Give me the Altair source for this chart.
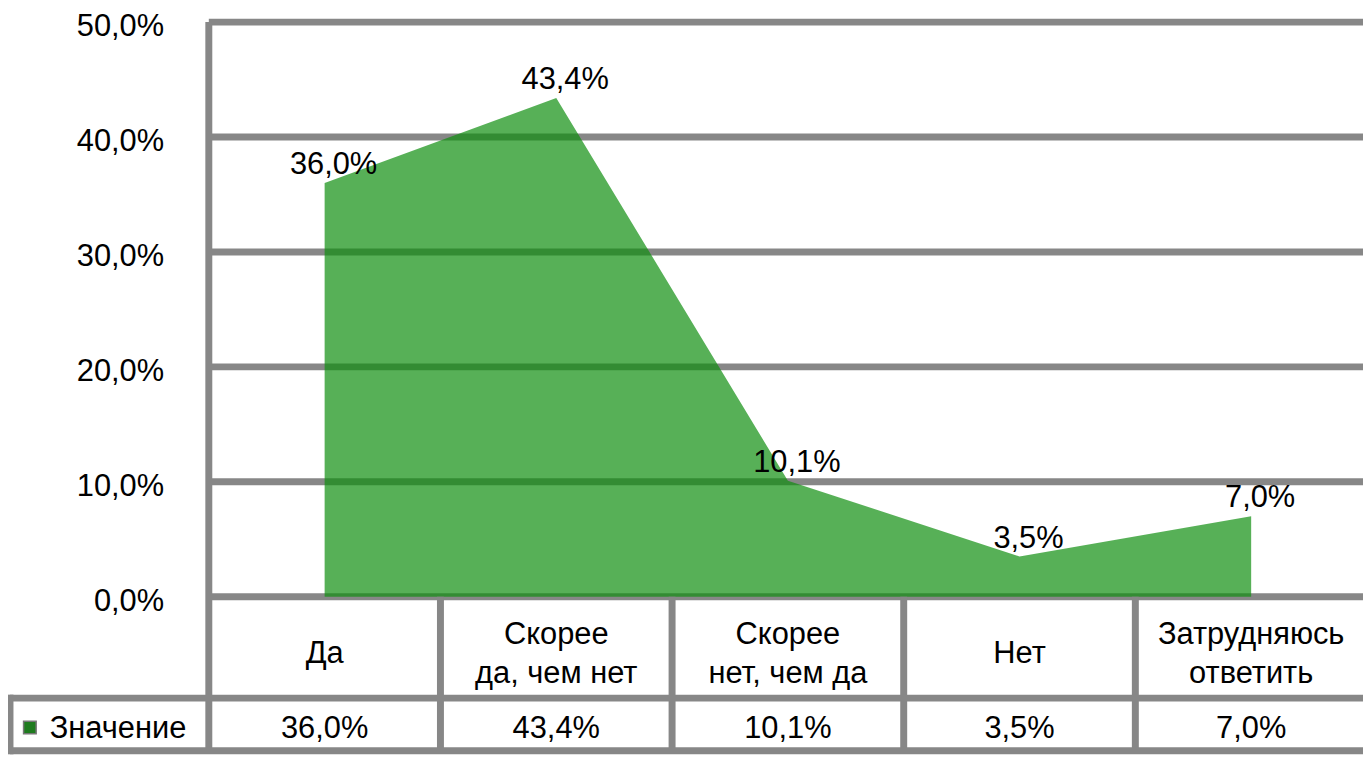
import altair as alt
import pandas as pd

# ---- data ----
categories = ["Да", "Скорее да, чем нет", "Скорее нет, чем да", "Нет", "Затрудняюсь ответить"]
cat_line1 = ["Да", "Скорее", "Скорее", "Нет", "Затрудняюсь"]
cat_line2 = ["", "да, чем нет", "нет, чем да", "", "ответить"]
values = [0.360, 0.434, 0.101, 0.035, 0.070]
y_ticks = [0.0, 0.1, 0.2, 0.3, 0.4, 0.5]
series_name = "Значение"


def pct(v):
    return f"{v * 100:.1f}".replace(".", ",") + "%"


# ---- layout (pixels inside the svg), converted to scale units ----
GRAY = "#878787"
FONT = "Liberation Sans"
FS = 31
COL_W = 233
TOTAL_W, TOTAL_H = 1363, 748
PLOT_LEFT, PLOT_TOP = 202, 12
W, H = TOTAL_W - PLOT_LEFT, 578
ROW1_BOTTOM = 680   # relative to plot top
ROW2_BOTTOM = 733
LEFT_CELL = -200    # relative to plot left
LINE_GAP = 39
Y_MAX = 0.5


def px_x(p):
    return -0.5 + p / COL_W


def px_y(p):
    return (H - p) * Y_MAX / H


n = len(categories)
row1_mid = (H + ROW1_BOTTOM) / 2 + 7
row2_mid = (ROW1_BOTTOM + ROW2_BOTTOM) / 2 + 5

df = pd.DataFrame({
    "idx": list(range(n)),
    "cat": categories,
    "line1": cat_line1,
    "line2": cat_line2,
    "value": values,
    "text": [pct(v) for v in values],
    "sep": [i + 0.5 for i in range(n)],
    "sep_top": [0.0] * n,
    "sep_bot": [px_y(ROW2_BOTTOM)] * n,
})
df["l1_y"] = [px_y(row1_mid - (LINE_GAP / 2 if l2 else 0)) for l2 in cat_line2]
df["l2_y"] = [px_y(row1_mid + LINE_GAP / 2)] * n
df["val_y"] = [px_y(row2_mid)] * n

ticks_df = pd.DataFrame({
    "tick": y_ticks,
    "tick_label": [pct(t) for t in y_ticks],
    "gx1": [-0.5] * len(y_ticks),
    "gx2": [px_x(W)] * len(y_ticks),
    "lx": [px_x(-45)] * len(y_ticks),
})
hlines = pd.DataFrame({
    "x1": [px_x(LEFT_CELL)] * 2,
    "x2": [px_x(W)] * 2,
    "y": [px_y(ROW1_BOTTOM), px_y(ROW2_BOTTOM)],
})
vlines = pd.DataFrame({
    "x": [px_x(0), px_x(LEFT_CELL)],
    "y1": [Y_MAX, px_y(ROW1_BOTTOM - 3.5)],
    "y2": [px_y(ROW2_BOTTOM), px_y(ROW2_BOTTOM + 3.5)],
})
legend_df = pd.DataFrame({
    "name": [series_name],
    "sx": [px_x(-180)],
    "tx": [px_x(-160)],
    "y": [px_y(row2_mid - 2)],
    "ty": [px_y(row2_mid)],
})

xscale = alt.Scale(domain=[px_x(-PLOT_LEFT), px_x(W)], nice=False, zero=False)
yscale = alt.Scale(domain=[px_y(TOTAL_H - PLOT_TOP), px_y(-PLOT_TOP)], nice=False, zero=False)


def XQ(f):
    return alt.X(f, type="quantitative", scale=xscale, axis=None)


def YQ(f):
    return alt.Y(f, type="quantitative", scale=yscale, axis=None)


grid = alt.Chart(ticks_df).mark_rule(color=GRAY, strokeWidth=7).encode(
    x=XQ("gx1"), x2="gx2", y=YQ("tick")
)
tick_labels = alt.Chart(ticks_df).mark_text(
    align="right", baseline="middle", dy=5, fontSize=FS, font=FONT, color="black"
).encode(x=XQ("lx"), y=YQ("tick"), text="tick_label:N")

area = alt.Chart(df).mark_area(color="#108e10", opacity=0.7).encode(
    x=XQ("idx"), y=YQ("value")
)

point_labels = alt.Chart(df).mark_text(
    dx=9, dy=-18, baseline="middle", fontSize=FS, font=FONT, color="black"
).encode(x=XQ("idx"), y=YQ("value"), text="text:N")

separators = alt.Chart(df).mark_rule(color=GRAY, strokeWidth=7).encode(
    x=XQ("sep"), y=YQ("sep_top"), y2="sep_bot:Q"
)
h_rules = alt.Chart(hlines).mark_rule(color=GRAY, strokeWidth=7).encode(
    x=XQ("x1"), x2="x2:Q", y=YQ("y")
)
v_rules = alt.Chart(vlines).mark_rule(color=GRAY, strokeWidth=7).encode(
    x=XQ("x"), y=YQ("y1"), y2="y2:Q"
)

txt = dict(fontSize=FS, font=FONT, color="black", baseline="middle", align="center")
cat_text1 = alt.Chart(df).mark_text(**txt).encode(x=XQ("idx"), y=YQ("l1_y"), text="line1:N")
cat_text2 = alt.Chart(df).mark_text(**txt).encode(x=XQ("idx"), y=YQ("l2_y"), text="line2:N")
val_text = alt.Chart(df).mark_text(**txt).encode(x=XQ("idx"), y=YQ("val_y"), text="text:N")

legend_sym = alt.Chart(legend_df).mark_square(
    size=160, color="#1e7b1e", stroke="#777777", strokeWidth=1.5, opacity=1
).encode(x=XQ("sx"), y=YQ("y"))
legend_txt = alt.Chart(legend_df).mark_text(
    align="left", baseline="middle", fontSize=FS, font=FONT, color="black"
).encode(x=XQ("tx"), y=YQ("ty"), text="name:N")

chart = alt.layer(
    grid, area, separators, h_rules, v_rules, tick_labels,
    point_labels, cat_text1, cat_text2, val_text, legend_sym, legend_txt
).properties(
    width=TOTAL_W, height=TOTAL_H,
    autosize=alt.AutoSizeParams(type="none"),
    padding=0,
).configure_view(strokeWidth=0)

chart.save("out.html", embed_options={"renderer": "svg", "actions": False})
